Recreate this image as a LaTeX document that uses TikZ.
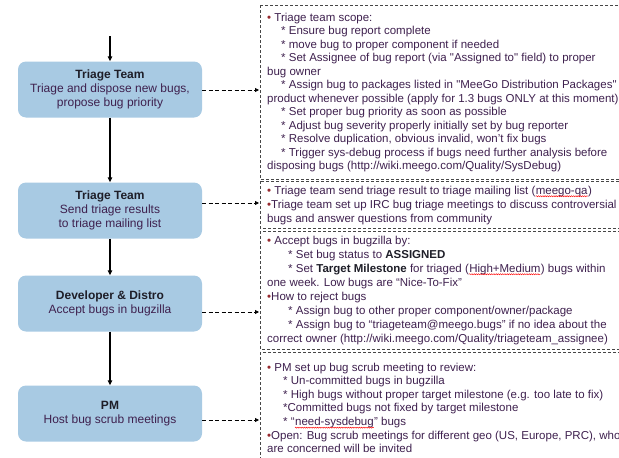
\documentclass[tikz,border=0pt]{standalone}
\usepackage{fontspec}
\setmainfont{Liberation Sans}
\usetikzlibrary{arrows.meta,decorations.pathmorphing}
\definecolor{boxfill}{RGB}{168,202,227}
\definecolor{textc}{RGB}{62,32,78}
\definecolor{titlec}{RGB}{30,30,40}
\definecolor{bulletc}{RGB}{150,40,45}
\definecolor{framec}{RGB}{70,70,70}
\newcommand{\bul}{\textcolor{bulletc}{\textbullet}}
\newcommand{\dq}{\textquotedbl}
% word with a red wavy underline
\newcommand{\spellmark}[1]{\tikz[baseline=(spw.base)]{\node[inner sep=0pt, anchor=base west, text=textc] (spw) {#1};
  \draw[red, line width=0.45pt, decorate, decoration={snake, amplitude=0.55pt, segment length=2.2pt}]
    ([yshift=-2.2pt]spw.base west) -- ([yshift=-2.2pt]spw.base east);}}
\tikzset{
  stagebox/.style={draw=none, fill=boxfill, rounded corners=8pt, minimum width=184pt,
    minimum height=56pt, align=center, text=textc, inner sep=0pt,
    font=\fontsize{12}{13.9}\selectfont},
  notebox/.style={draw=framec, dashed, dash pattern=on 3pt off 2pt, line width=0.7pt},
  notetext/.style={anchor=north west, align=left, inner sep=0pt, text=textc},
  flow/.style={-{Triangle[length=5pt,width=4.5pt]}, line width=1.4pt, black},
  link/.style={-{Triangle[length=4pt,width=4pt]}, dashed, dash pattern=on 4pt off 2.5pt, line width=0.8pt, black}
}
\begin{document}
\begin{tikzpicture}[x=1pt,y=-1pt]
\useasboundingbox (0,0) rectangle (619,458);
\clip (0,0) rectangle (619,458);

% dashed note frames on the right
\draw[notebox] (260,5) rectangle (640,179);
\draw[notebox] (260,181) rectangle (640,228);
\draw[notebox] (260,231) rectangle (640,349);
\draw[notebox] (260,352) rectangle (640,470);

% stage boxes
\node[stagebox] (s1) at (110,89.5) {{\bfseries\color{titlec}Triage Team}\\Triage and dispose new bugs,\\propose bug priority};
\node[stagebox] (s2) at (110,210.5) {{\bfseries\color{titlec}Triage Team}\\Send triage results\\to triage mailing list};
\node[stagebox] (s3) at (110,303.5) {{\bfseries\color{titlec}Developer \& Distro}\\Accept bugs in bugzilla};
\node[stagebox] (s4) at (110,413.5) {{\bfseries\color{titlec}PM}\\Host bug scrub meetings};

\coordinate (start) at (110,36);
\draw[flow] (start) -- (s1.north);
\draw[flow] (s1) -- (s2);
\draw[flow] (s2) -- (s3);
\draw[flow] (s3) -- (s4);

% connectors into the notes
\coordinate (n1) at (259,90);
\coordinate (n2) at (259,203);
\coordinate (n3) at (259,312);
\coordinate (n4) at (259,420);
\draw[link] (s1.east |- n1) -- (n1);
\draw[link] (s2.east |- n2) -- (n2);
\draw[link] (s3.east |- n3) -- (n3);
\draw[link] (s4.east |- n4) -- (n4);

% note texts
\node[notetext, font=\fontsize{11.5}{13.5}\selectfont] (t1) at (267,12.5) {%
\bul\ Triage team scope:\\
\hspace*{14pt}* Ensure bug report complete\\
\hspace*{14pt}* move bug to  proper component if needed\\
\hspace*{14pt}* Set Assignee of bug report (via \dq Assigned to\dq\ field) to proper\\
bug owner\\
\hspace*{14pt}* Assign bug to packages listed in \dq MeeGo Distribution Packages\dq\\
product whenever possible (apply for 1.3 bugs ONLY at this moment)\\
\hspace*{14pt}* Set proper bug priority as soon as possible\\
\hspace*{14pt}* Adjust bug severity properly initially set by bug reporter\\
\hspace*{14pt}* Resolve duplication, obvious invalid, won’t fix bugs\\
\hspace*{14pt}* Trigger sys-debug process if bugs need further analysis before\\
disposing bugs (http://wiki.meego.com/Quality/SysDebug)};

\node[notetext, font=\fontsize{11.5}{14}\selectfont] (t2) at (267,185.5) {%
\bul\ Triage team send triage result to triage mailing list (\spellmark{meego-qa})\\
\bul Triage team set up IRC  bug triage meetings to discuss controversial\\
bugs and answer questions from community};

\node[notetext, font=\fontsize{11.5}{14}\selectfont] (t3) at (267,235.5) {%
\bul\ Accept bugs in bugzilla by:\\
\hspace*{21pt}* Set bug status to {\bfseries\color{titlec}ASSIGNED}\\
\hspace*{21pt}* Set {\bfseries\color{titlec}Target Milestone} for triaged (\spellmark{High+Medium}) bugs within\\
one week. Low bugs are “Nice-To-Fix”\\
\bul How to reject bugs\\
\hspace*{21pt}* Assign bug to other proper component/owner/package\\
\hspace*{21pt}* Assign bug to “triageteam@meego.bugs” if no idea about the\\
correct owner (http://wiki.meego.com/Quality/triageteam\_assignee)};

\node[notetext, font=\fontsize{11.5}{13.6}\selectfont] (t4) at (267,362.5) {%
\bul\ PM  set up bug scrub meeting to review:\\
\hspace*{16pt}* Un-committed bugs in bugzilla\\
\hspace*{16pt}* High bugs without proper target milestone (e.g. too late to fix)\\
\hspace*{16pt}*Committed bugs not fixed by target milestone\\
\hspace*{16pt}* “\spellmark{need-sysdebug}” bugs\\
\bul Open: Bug scrub meetings for different geo (US, Europe, PRC),  who\\
are concerned will be invited};
\end{tikzpicture}
\end{document}
